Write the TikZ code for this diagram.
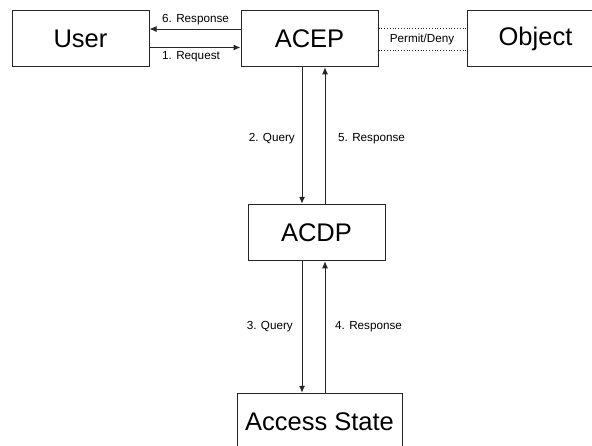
\documentclass[tikz,border=0pt]{standalone}
\usepackage{fontspec}
\setmainfont{Liberation Sans}
\usetikzlibrary{arrows.meta}
\begin{document}
\begin{tikzpicture}[x=1pt,y=-1pt]
      \tikzstyle{box}=[draw=black!85,line width=1pt,minimum width=137pt,minimum height=56.5pt,inner sep=0pt,font=\fontsize{25.5}{30}\selectfont]
      \tikzstyle{lbl}=[inner sep=0pt,font=\fontsize{11.7}{14}\selectfont]
      \tikzstyle{arr}=[black!85,line width=1pt,-{Latex[length=7pt,width=6pt]}]
      \useasboundingbox (0,0) rectangle (592,445);
      \node [box] (user) at (80.5,38.5) {User};
      \node [box] (acep) at (309.5,38.5) {ACEP};
      \node [box] (object) at (535.5,38.5) {Object};
      \node [box] (acdp) at (316.5,232.5) {ACDP};
      \node [box,minimum width=165pt] (state) at (319.5,421.5) {Access State};
      % user <-> acep
      \draw [arr] ([yshift=9.5]acep.west) -- ([yshift=9.5]user.east);
      \node [lbl,anchor=west] (resp6) at (162,20) {6. Response};
      \draw [arr] ([yshift=-9]user.east) -- ([yshift=-9]acep.west);
      \node [lbl,anchor=west] (req1) at (162,57) {1. Request};
      % acep ... object
      \draw [black!85,line width=0.8pt,dotted] ([yshift=10]acep.east) -- ([yshift=10]object.west);
      \draw [black!85,line width=0.8pt,dotted] ([yshift=-12]acep.east) -- ([yshift=-12]object.west);
      \node [lbl] (permit) at (422,39) {Permit/Deny};
      % acep <-> acdp
      \draw [arr] ([xshift=-7.5]acep.south) -- ([xshift=-14.5]acdp.north);
      \node [lbl,anchor=east] (query2) at (295,139) {2. Query};
      \draw [arr] ([xshift=8.5]acdp.north) -- ([xshift=15.5]acep.south);
      \node [lbl,anchor=west] (resp5) at (338,139) {5. Response};
      % acdp <-> access state
      \draw [arr] ([xshift=-14.5]acdp.south) -- ([xshift=-17.5]state.north);
      \node [lbl,anchor=east] (query3) at (293,327) {3. Query};
      \draw [arr] ([xshift=5.5]state.north) -- ([xshift=8.5]acdp.south);
      \node [lbl,anchor=west] (resp4) at (335,327) {4. Response};
    \end{tikzpicture}
\end{document}
